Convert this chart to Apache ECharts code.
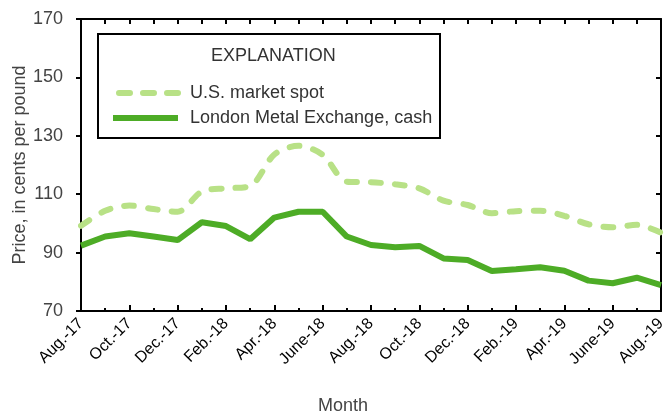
<!DOCTYPE html>
<html>
<head>
<meta charset="utf-8">
<script src="https://cdn.jsdelivr.net/npm/echarts@6/dist/echarts.min.js"></script>
<style>
  html, body { margin: 0; padding: 0; background: #fff; }
  #container { width: 667px; height: 416px; }
</style>
</head>
<body>
<div id="container"></div>
<script>
var months = [
    "Aug.-17", "Sept.-17", "Oct.-17", "Nov.-17", "Dec.-17", "Jan.-18", "Feb.-18",
    "Mar.-18", "Apr.-18", "May-18", "June-18", "July-18", "Aug.-18", "Sept.-18",
    "Oct.-18", "Nov.-18", "Dec.-18", "Jan.-19", "Feb.-19", "Mar.-19", "Apr.-19",
    "May-19", "June-19", "July-19", "Aug.-19"
];
var usSpot = [
    99.2, 104.3, 106.1, 104.9, 104.0, 110.9, 112.0, 112.8, 123.6, 126.6,
    123.5, 114.3, 114.1, 113.4, 112.0, 107.8, 106.3, 103.5, 104.2, 104.3,
    102.6, 99.7, 98.7, 99.5, 96.8
];
var lmeCash = [
    92.4, 95.5, 96.6, 95.5, 94.3, 100.4, 99.1, 94.6, 102.0, 104.0,
    104.0, 95.5, 92.6, 91.8, 92.3, 88.0, 87.5, 83.7, 84.3, 85.0,
    83.8, 80.4, 79.5, 81.4, 78.9
];
var seriesNames = ["U.S. market spot", "London Metal Exchange, cash"];

var font = "'Liberation Sans Narrow', 'Liberation Sans', sans-serif";
var dom = document.getElementById("container");
var myChart = echarts.init(dom);

var option = {
    animation: false,
    textStyle: { fontFamily: font },
    grid: { left: 81, right: 6, top: 19, bottom: 105, outerBoundsMode: "none", containLabel: false },
    graphic: [
        {
            type: "rect",
            shape: { x: 98, y: 34, width: 342, height: 104 },
            style: { fill: "#fff", stroke: "#000", lineWidth: 2 },
            z: 3
        },
        {
            type: "text",
            left: 269 - 58, top: 47,
            style: { text: "EXPLANATION", fill: "#333", font: "18px " + font },
            z: 5
        },
        {
            type: "text", left: 318, top: 397,
            style: { text: "Month", fill: "#444", font: "18px " + font }
        }
    ],
    legend: {
        orient: "vertical",
        left: 110, top: 83, padding: 0,
        itemWidth: 65, itemHeight: 14, itemGap: 5,
        itemStyle: { opacity: 0 },
        textStyle: { color: "#333", fontSize: 18, lineHeight: 20, padding: [0, 0, 0, 7] },
        data: [
            { name: seriesNames[0], lineStyle: { width: 6, type: [11, 13], cap: "round", dashOffset: -6 } },
            { name: seriesNames[1], lineStyle: { width: 6 } }
        ]
    },
    xAxis: [
        {
            type: "category", data: months, boundaryGap: false,
            axisLine: { lineStyle: { color: "#000", width: 2 } },
            axisTick: { inside: true, length: 6, interval: 1, lineStyle: { color: "#000", width: 2 } },
            axisLabel: { interval: 1, rotate: 45, color: "#000", fontSize: 16, margin: 10 }
        },
        {
            type: "category", data: months, boundaryGap: false, position: "bottom",
            axisLine: { show: false },
            axisTick: { inside: true, length: 3, interval: 0, lineStyle: { color: "#000", width: 2 } },
            axisLabel: { show: false }
        },
        {
            type: "category", data: months, boundaryGap: false, position: "top",
            axisLine: { lineStyle: { color: "#000", width: 2 } },
            axisTick: { inside: true, length: 5, interval: 0, lineStyle: { color: "#000", width: 2 } },
            axisLabel: { show: false }
        }
    ],
    yAxis: [
        {
            type: "value", min: 70, max: 170, interval: 20,
            name: "Price, in cents per pound", nameLocation: "middle", nameGap: 52,
            nameMoveOverlap: false,
            nameTextStyle: { color: "#444", fontSize: 18 },
            axisLine: { show: true, lineStyle: { color: "#000", width: 2 } },
            axisTick: { show: true, length: 5, lineStyle: { color: "#000", width: 2 } },
            axisLabel: { color: "#444", fontSize: 18, margin: 18 },
            splitLine: { show: false }
        },
        {
            type: "value", min: 70, max: 170, interval: 20, position: "right",
            axisLine: { show: true, lineStyle: { color: "#000", width: 2 } },
            axisTick: { show: true, inside: true, length: 5, lineStyle: { color: "#000", width: 2 } },
            axisLabel: { show: false },
            splitLine: { show: false }
        }
    ],
    series: [
        {
            name: seriesNames[0], type: "line", data: usSpot,
            symbol: "none", smooth: 0.3, z: 2,
            lineStyle: { color: "#b8e186", width: 6, type: [10, 14], cap: "round" },
            itemStyle: { color: "#b8e186" }
        },
        {
            name: seriesNames[1], type: "line", data: lmeCash,
            symbol: "none", z: 2,
            lineStyle: { color: "#4dac26", width: 6 },
            itemStyle: { color: "#4dac26" }
        }
    ]
};

myChart.setOption(option);
</script>
</body>
</html>
